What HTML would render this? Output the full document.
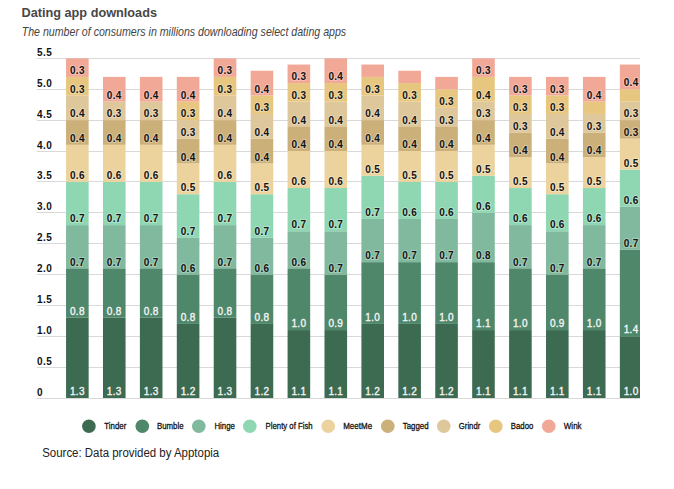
<!DOCTYPE html>
<html><head><meta charset="utf-8"><style>
html,body{margin:0;padding:0;background:#fff;}
body{width:674px;height:489px;position:relative;overflow:hidden;font-family:"Liberation Sans",sans-serif;}
svg{position:absolute;left:0;top:0;}
text{font-family:"Liberation Sans",sans-serif;}
.yl{font-size:10px;font-weight:bold;fill:#111;letter-spacing:0.4px;}
.l{font-size:10px;font-weight:bold;fill:#141414;text-anchor:middle;letter-spacing:0.3px;stroke:rgba(255,255,255,0.3);stroke-width:2px;paint-order:stroke;}
.w{fill:#f4f4f4;font-weight:normal;stroke:#f4f4f4;stroke-width:0.35px;}
.lt{font-size:9.3px;font-weight:normal;fill:#111;stroke:#111;stroke-width:0.3px;}
</style></head><body>
<svg width="674" height="489" viewBox="0 0 674 489">
<text x="21.5" y="17.0" textLength="135.5" lengthAdjust="spacingAndGlyphs" style="font-size:13.7px;font-weight:bold;fill:#474747">Dating app downloads</text>
<text x="21.7" y="35.5" textLength="324.5" lengthAdjust="spacingAndGlyphs" style="font-size:12.2px;font-style:italic;fill:#444">The number of consumers in millions downloading select dating apps</text>
<rect x="36.7" y="398" width="603.3" height="1" fill="#d9d9d9"/>
<text class="yl" x="37" y="396.40">0</text>
<rect x="36.7" y="367" width="603.3" height="1" fill="#d9d9d9"/>
<text class="yl" x="37" y="365.40">0.5</text>
<rect x="36.7" y="336" width="603.3" height="1" fill="#d9d9d9"/>
<text class="yl" x="37" y="334.40">1.0</text>
<rect x="36.7" y="305" width="603.3" height="1" fill="#d9d9d9"/>
<text class="yl" x="37" y="303.40">1.5</text>
<rect x="36.7" y="274" width="603.3" height="1" fill="#d9d9d9"/>
<text class="yl" x="37" y="272.40">2.0</text>
<rect x="36.7" y="243" width="603.3" height="1" fill="#d9d9d9"/>
<text class="yl" x="37" y="241.40">2.5</text>
<rect x="36.7" y="212" width="603.3" height="1" fill="#d9d9d9"/>
<text class="yl" x="37" y="210.40">3.0</text>
<rect x="36.7" y="181" width="603.3" height="1" fill="#d9d9d9"/>
<text class="yl" x="37" y="179.40">3.5</text>
<rect x="36.7" y="151" width="603.3" height="1" fill="#d9d9d9"/>
<text class="yl" x="37" y="149.40">4.0</text>
<rect x="36.7" y="120" width="603.3" height="1" fill="#d9d9d9"/>
<text class="yl" x="37" y="118.40">4.5</text>
<rect x="36.7" y="89" width="603.3" height="1" fill="#d9d9d9"/>
<text class="yl" x="37" y="87.40">5.0</text>
<rect x="36.7" y="58" width="603.3" height="1" fill="#d9d9d9"/>
<text class="yl" x="37" y="56.40">5.5</text>
<defs><clipPath id="c"><rect x="0" y="0" width="640" height="489"/></clipPath></defs><g clip-path="url(#c)">
<rect x="66.05" y="317.73" width="22.6" height="80.27" fill="#3d6b52"/>
<rect x="66.05" y="268.32" width="22.6" height="49.40" fill="#4e876a"/>
<rect x="66.05" y="225.10" width="22.6" height="43.22" fill="#80b99d"/>
<rect x="66.05" y="181.88" width="22.6" height="43.23" fill="#8fd7b3"/>
<rect x="66.05" y="144.83" width="22.6" height="37.05" fill="#ecd39d"/>
<rect x="66.05" y="120.12" width="22.6" height="24.70" fill="#ccb07a"/>
<rect x="66.05" y="95.42" width="22.6" height="24.70" fill="#dec79a"/>
<rect x="66.05" y="76.90" width="22.6" height="18.52" fill="#e7c77f"/>
<rect x="66.05" y="58.38" width="22.6" height="18.52" fill="#f2a896"/>
<text class="l w" x="77.35" y="395.20">1.3</text>
<text class="l w" x="77.35" y="314.93">0.8</text>
<text class="l" x="77.35" y="265.52">0.7</text>
<text class="l" x="77.35" y="222.30">0.7</text>
<text class="l" x="77.35" y="179.07">0.6</text>
<text class="l" x="77.35" y="142.03">0.4</text>
<text class="l" x="77.35" y="117.33">0.4</text>
<text class="l" x="77.35" y="92.62">0.3</text>
<text class="l" x="77.35" y="74.10">0.3</text>
<rect x="102.97" y="317.73" width="22.6" height="80.27" fill="#3d6b52"/>
<rect x="102.97" y="268.32" width="22.6" height="49.40" fill="#4e876a"/>
<rect x="102.97" y="225.10" width="22.6" height="43.22" fill="#80b99d"/>
<rect x="102.97" y="181.88" width="22.6" height="43.23" fill="#8fd7b3"/>
<rect x="102.97" y="144.83" width="22.6" height="37.05" fill="#ecd39d"/>
<rect x="102.97" y="120.12" width="22.6" height="24.70" fill="#ccb07a"/>
<rect x="102.97" y="101.60" width="22.6" height="18.52" fill="#dec79a"/>
<rect x="102.97" y="76.90" width="22.6" height="24.70" fill="#f2a896"/>
<text class="l w" x="114.27" y="395.20">1.3</text>
<text class="l w" x="114.27" y="314.93">0.8</text>
<text class="l" x="114.27" y="265.52">0.7</text>
<text class="l" x="114.27" y="222.30">0.7</text>
<text class="l" x="114.27" y="179.07">0.6</text>
<text class="l" x="114.27" y="142.03">0.4</text>
<text class="l" x="114.27" y="117.33">0.3</text>
<text class="l" x="114.27" y="98.80">0.4</text>
<rect x="139.89" y="317.73" width="22.6" height="80.27" fill="#3d6b52"/>
<rect x="139.89" y="268.32" width="22.6" height="49.40" fill="#4e876a"/>
<rect x="139.89" y="225.10" width="22.6" height="43.22" fill="#80b99d"/>
<rect x="139.89" y="181.88" width="22.6" height="43.23" fill="#8fd7b3"/>
<rect x="139.89" y="144.83" width="22.6" height="37.05" fill="#ecd39d"/>
<rect x="139.89" y="120.12" width="22.6" height="24.70" fill="#ccb07a"/>
<rect x="139.89" y="101.60" width="22.6" height="18.52" fill="#dec79a"/>
<rect x="139.89" y="76.90" width="22.6" height="24.70" fill="#f2a896"/>
<text class="l w" x="151.19" y="395.20">1.3</text>
<text class="l w" x="151.19" y="314.93">0.8</text>
<text class="l" x="151.19" y="265.52">0.7</text>
<text class="l" x="151.19" y="222.30">0.7</text>
<text class="l" x="151.19" y="179.07">0.6</text>
<text class="l" x="151.19" y="142.03">0.4</text>
<text class="l" x="151.19" y="117.33">0.3</text>
<text class="l" x="151.19" y="98.80">0.4</text>
<rect x="176.81" y="323.90" width="22.6" height="74.10" fill="#3d6b52"/>
<rect x="176.81" y="274.50" width="22.6" height="49.40" fill="#4e876a"/>
<rect x="176.81" y="237.45" width="22.6" height="37.05" fill="#80b99d"/>
<rect x="176.81" y="194.23" width="22.6" height="43.22" fill="#8fd7b3"/>
<rect x="176.81" y="163.35" width="22.6" height="30.88" fill="#ecd39d"/>
<rect x="176.81" y="138.65" width="22.6" height="24.70" fill="#ccb07a"/>
<rect x="176.81" y="120.12" width="22.6" height="18.52" fill="#dec79a"/>
<rect x="176.81" y="101.60" width="22.6" height="18.52" fill="#e7c77f"/>
<rect x="176.81" y="76.90" width="22.6" height="24.70" fill="#f2a896"/>
<text class="l w" x="188.11" y="395.20">1.2</text>
<text class="l w" x="188.11" y="321.10">0.8</text>
<text class="l" x="188.11" y="271.70">0.6</text>
<text class="l" x="188.11" y="234.65">0.7</text>
<text class="l" x="188.11" y="191.43">0.5</text>
<text class="l" x="188.11" y="160.55">0.4</text>
<text class="l" x="188.11" y="135.85">0.3</text>
<text class="l" x="188.11" y="117.33">0.3</text>
<text class="l" x="188.11" y="98.80">0.4</text>
<rect x="213.73" y="317.73" width="22.6" height="80.27" fill="#3d6b52"/>
<rect x="213.73" y="268.32" width="22.6" height="49.40" fill="#4e876a"/>
<rect x="213.73" y="225.10" width="22.6" height="43.22" fill="#80b99d"/>
<rect x="213.73" y="181.88" width="22.6" height="43.23" fill="#8fd7b3"/>
<rect x="213.73" y="144.83" width="22.6" height="37.05" fill="#ecd39d"/>
<rect x="213.73" y="120.12" width="22.6" height="24.70" fill="#ccb07a"/>
<rect x="213.73" y="95.42" width="22.6" height="24.70" fill="#dec79a"/>
<rect x="213.73" y="76.90" width="22.6" height="18.52" fill="#e7c77f"/>
<rect x="213.73" y="58.38" width="22.6" height="18.52" fill="#f2a896"/>
<text class="l w" x="225.03" y="395.20">1.3</text>
<text class="l w" x="225.03" y="314.93">0.8</text>
<text class="l" x="225.03" y="265.52">0.7</text>
<text class="l" x="225.03" y="222.30">0.7</text>
<text class="l" x="225.03" y="179.07">0.6</text>
<text class="l" x="225.03" y="142.03">0.4</text>
<text class="l" x="225.03" y="117.33">0.4</text>
<text class="l" x="225.03" y="92.62">0.3</text>
<text class="l" x="225.03" y="74.10">0.3</text>
<rect x="250.65" y="323.90" width="22.6" height="74.10" fill="#3d6b52"/>
<rect x="250.65" y="274.50" width="22.6" height="49.40" fill="#4e876a"/>
<rect x="250.65" y="237.45" width="22.6" height="37.05" fill="#80b99d"/>
<rect x="250.65" y="194.23" width="22.6" height="43.22" fill="#8fd7b3"/>
<rect x="250.65" y="163.35" width="22.6" height="30.88" fill="#ecd39d"/>
<rect x="250.65" y="138.65" width="22.6" height="24.70" fill="#ccb07a"/>
<rect x="250.65" y="113.95" width="22.6" height="24.70" fill="#dec79a"/>
<rect x="250.65" y="95.42" width="22.6" height="18.53" fill="#e7c77f"/>
<rect x="250.65" y="70.72" width="22.6" height="24.70" fill="#f2a896"/>
<text class="l w" x="261.95" y="395.20">1.2</text>
<text class="l w" x="261.95" y="321.10">0.8</text>
<text class="l" x="261.95" y="271.70">0.6</text>
<text class="l" x="261.95" y="234.65">0.7</text>
<text class="l" x="261.95" y="191.43">0.5</text>
<text class="l" x="261.95" y="160.55">0.4</text>
<text class="l" x="261.95" y="135.85">0.4</text>
<text class="l" x="261.95" y="111.15">0.3</text>
<text class="l" x="261.95" y="92.62">0.4</text>
<rect x="287.57" y="330.07" width="22.6" height="67.93" fill="#3d6b52"/>
<rect x="287.57" y="268.32" width="22.6" height="61.75" fill="#4e876a"/>
<rect x="287.57" y="231.27" width="22.6" height="37.05" fill="#80b99d"/>
<rect x="287.57" y="188.05" width="22.6" height="43.22" fill="#8fd7b3"/>
<rect x="287.57" y="151.00" width="22.6" height="37.05" fill="#ecd39d"/>
<rect x="287.57" y="126.30" width="22.6" height="24.70" fill="#ccb07a"/>
<rect x="287.57" y="101.60" width="22.6" height="24.70" fill="#dec79a"/>
<rect x="287.57" y="83.07" width="22.6" height="18.52" fill="#e7c77f"/>
<rect x="287.57" y="64.55" width="22.6" height="18.53" fill="#f2a896"/>
<text class="l w" x="298.87" y="395.20">1.1</text>
<text class="l w" x="298.87" y="327.27">1.0</text>
<text class="l" x="298.87" y="265.52">0.6</text>
<text class="l" x="298.87" y="228.47">0.7</text>
<text class="l" x="298.87" y="185.25">0.6</text>
<text class="l" x="298.87" y="148.20">0.4</text>
<text class="l" x="298.87" y="123.50">0.4</text>
<text class="l" x="298.87" y="98.80">0.3</text>
<text class="l" x="298.87" y="80.27">0.3</text>
<rect x="324.49" y="330.07" width="22.6" height="67.93" fill="#3d6b52"/>
<rect x="324.49" y="274.50" width="22.6" height="55.57" fill="#4e876a"/>
<rect x="324.49" y="231.27" width="22.6" height="43.23" fill="#80b99d"/>
<rect x="324.49" y="188.05" width="22.6" height="43.22" fill="#8fd7b3"/>
<rect x="324.49" y="151.00" width="22.6" height="37.05" fill="#ecd39d"/>
<rect x="324.49" y="126.30" width="22.6" height="24.70" fill="#ccb07a"/>
<rect x="324.49" y="101.60" width="22.6" height="24.70" fill="#dec79a"/>
<rect x="324.49" y="83.07" width="22.6" height="18.52" fill="#e7c77f"/>
<rect x="324.49" y="58.37" width="22.6" height="24.70" fill="#f2a896"/>
<text class="l w" x="335.79" y="395.20">1.1</text>
<text class="l w" x="335.79" y="327.27">0.9</text>
<text class="l" x="335.79" y="271.70">0.7</text>
<text class="l" x="335.79" y="228.47">0.7</text>
<text class="l" x="335.79" y="185.25">0.6</text>
<text class="l" x="335.79" y="148.20">0.4</text>
<text class="l" x="335.79" y="123.50">0.4</text>
<text class="l" x="335.79" y="98.80">0.3</text>
<text class="l" x="335.79" y="80.27">0.4</text>
<rect x="361.41" y="323.90" width="22.6" height="74.10" fill="#3d6b52"/>
<rect x="361.41" y="262.15" width="22.6" height="61.75" fill="#4e876a"/>
<rect x="361.41" y="218.92" width="22.6" height="43.22" fill="#80b99d"/>
<rect x="361.41" y="175.70" width="22.6" height="43.23" fill="#8fd7b3"/>
<rect x="361.41" y="144.82" width="22.6" height="30.88" fill="#ecd39d"/>
<rect x="361.41" y="120.12" width="22.6" height="24.70" fill="#ccb07a"/>
<rect x="361.41" y="95.42" width="22.6" height="24.70" fill="#dec79a"/>
<rect x="361.41" y="76.90" width="22.6" height="18.52" fill="#e7c77f"/>
<rect x="361.41" y="64.55" width="22.6" height="12.35" fill="#f2a896"/>
<text class="l w" x="372.71" y="395.20">1.2</text>
<text class="l w" x="372.71" y="321.10">1.0</text>
<text class="l" x="372.71" y="259.35">0.7</text>
<text class="l" x="372.71" y="216.12">0.7</text>
<text class="l" x="372.71" y="172.90">0.5</text>
<text class="l" x="372.71" y="142.02">0.4</text>
<text class="l" x="372.71" y="117.32">0.4</text>
<text class="l" x="372.71" y="92.62">0.3</text>
<rect x="398.33" y="323.90" width="22.6" height="74.10" fill="#3d6b52"/>
<rect x="398.33" y="262.15" width="22.6" height="61.75" fill="#4e876a"/>
<rect x="398.33" y="218.92" width="22.6" height="43.22" fill="#80b99d"/>
<rect x="398.33" y="181.87" width="22.6" height="37.05" fill="#8fd7b3"/>
<rect x="398.33" y="151.00" width="22.6" height="30.87" fill="#ecd39d"/>
<rect x="398.33" y="126.30" width="22.6" height="24.70" fill="#ccb07a"/>
<rect x="398.33" y="101.60" width="22.6" height="24.70" fill="#dec79a"/>
<rect x="398.33" y="83.07" width="22.6" height="18.52" fill="#e7c77f"/>
<rect x="398.33" y="70.72" width="22.6" height="12.35" fill="#f2a896"/>
<text class="l w" x="409.63" y="395.20">1.2</text>
<text class="l w" x="409.63" y="321.10">1.0</text>
<text class="l" x="409.63" y="259.35">0.7</text>
<text class="l" x="409.63" y="216.12">0.6</text>
<text class="l" x="409.63" y="179.07">0.5</text>
<text class="l" x="409.63" y="148.20">0.4</text>
<text class="l" x="409.63" y="123.50">0.4</text>
<text class="l" x="409.63" y="98.80">0.3</text>
<rect x="435.25" y="323.90" width="22.6" height="74.10" fill="#3d6b52"/>
<rect x="435.25" y="262.15" width="22.6" height="61.75" fill="#4e876a"/>
<rect x="435.25" y="218.92" width="22.6" height="43.22" fill="#80b99d"/>
<rect x="435.25" y="181.87" width="22.6" height="37.05" fill="#8fd7b3"/>
<rect x="435.25" y="151.00" width="22.6" height="30.87" fill="#ecd39d"/>
<rect x="435.25" y="126.30" width="22.6" height="24.70" fill="#ccb07a"/>
<rect x="435.25" y="107.77" width="22.6" height="18.52" fill="#dec79a"/>
<rect x="435.25" y="89.25" width="22.6" height="18.52" fill="#e7c77f"/>
<rect x="435.25" y="76.90" width="22.6" height="12.35" fill="#f2a896"/>
<text class="l w" x="446.55" y="395.20">1.2</text>
<text class="l w" x="446.55" y="321.10">1.0</text>
<text class="l" x="446.55" y="259.35">0.7</text>
<text class="l" x="446.55" y="216.12">0.6</text>
<text class="l" x="446.55" y="179.07">0.5</text>
<text class="l" x="446.55" y="148.20">0.4</text>
<text class="l" x="446.55" y="123.50">0.3</text>
<text class="l" x="446.55" y="104.97">0.3</text>
<rect x="472.17" y="330.07" width="22.6" height="67.93" fill="#3d6b52"/>
<rect x="472.17" y="262.15" width="22.6" height="67.93" fill="#4e876a"/>
<rect x="472.17" y="212.75" width="22.6" height="49.40" fill="#80b99d"/>
<rect x="472.17" y="175.70" width="22.6" height="37.05" fill="#8fd7b3"/>
<rect x="472.17" y="144.83" width="22.6" height="30.87" fill="#ecd39d"/>
<rect x="472.17" y="120.12" width="22.6" height="24.70" fill="#ccb07a"/>
<rect x="472.17" y="101.60" width="22.6" height="18.52" fill="#dec79a"/>
<rect x="472.17" y="76.90" width="22.6" height="24.70" fill="#e7c77f"/>
<rect x="472.17" y="58.38" width="22.6" height="18.52" fill="#f2a896"/>
<text class="l w" x="483.47" y="395.20">1.1</text>
<text class="l w" x="483.47" y="327.27">1.1</text>
<text class="l" x="483.47" y="259.35">0.8</text>
<text class="l" x="483.47" y="209.95">0.6</text>
<text class="l" x="483.47" y="172.90">0.5</text>
<text class="l" x="483.47" y="142.03">0.4</text>
<text class="l" x="483.47" y="117.33">0.3</text>
<text class="l" x="483.47" y="98.80">0.4</text>
<text class="l" x="483.47" y="74.10">0.3</text>
<rect x="509.09" y="330.07" width="22.6" height="67.93" fill="#3d6b52"/>
<rect x="509.09" y="268.32" width="22.6" height="61.75" fill="#4e876a"/>
<rect x="509.09" y="225.10" width="22.6" height="43.22" fill="#80b99d"/>
<rect x="509.09" y="188.05" width="22.6" height="37.05" fill="#8fd7b3"/>
<rect x="509.09" y="157.18" width="22.6" height="30.88" fill="#ecd39d"/>
<rect x="509.09" y="132.48" width="22.6" height="24.70" fill="#ccb07a"/>
<rect x="509.09" y="113.95" width="22.6" height="18.52" fill="#dec79a"/>
<rect x="509.09" y="95.43" width="22.6" height="18.53" fill="#e7c77f"/>
<rect x="509.09" y="76.90" width="22.6" height="18.52" fill="#f2a896"/>
<text class="l w" x="520.39" y="395.20">1.1</text>
<text class="l w" x="520.39" y="327.27">1.0</text>
<text class="l" x="520.39" y="265.52">0.7</text>
<text class="l" x="520.39" y="222.30">0.6</text>
<text class="l" x="520.39" y="185.25">0.5</text>
<text class="l" x="520.39" y="154.38">0.4</text>
<text class="l" x="520.39" y="129.68">0.3</text>
<text class="l" x="520.39" y="111.15">0.3</text>
<text class="l" x="520.39" y="92.63">0.3</text>
<rect x="546.01" y="330.07" width="22.6" height="67.93" fill="#3d6b52"/>
<rect x="546.01" y="274.50" width="22.6" height="55.57" fill="#4e876a"/>
<rect x="546.01" y="231.27" width="22.6" height="43.23" fill="#80b99d"/>
<rect x="546.01" y="194.22" width="22.6" height="37.05" fill="#8fd7b3"/>
<rect x="546.01" y="163.35" width="22.6" height="30.88" fill="#ecd39d"/>
<rect x="546.01" y="138.65" width="22.6" height="24.70" fill="#ccb07a"/>
<rect x="546.01" y="113.95" width="22.6" height="24.70" fill="#dec79a"/>
<rect x="546.01" y="95.42" width="22.6" height="18.53" fill="#e7c77f"/>
<rect x="546.01" y="76.90" width="22.6" height="18.52" fill="#f2a896"/>
<text class="l w" x="557.31" y="395.20">1.1</text>
<text class="l w" x="557.31" y="327.27">0.9</text>
<text class="l" x="557.31" y="271.70">0.7</text>
<text class="l" x="557.31" y="228.47">0.6</text>
<text class="l" x="557.31" y="191.42">0.5</text>
<text class="l" x="557.31" y="160.55">0.4</text>
<text class="l" x="557.31" y="135.85">0.4</text>
<text class="l" x="557.31" y="111.15">0.3</text>
<text class="l" x="557.31" y="92.62">0.3</text>
<rect x="582.93" y="330.07" width="22.6" height="67.93" fill="#3d6b52"/>
<rect x="582.93" y="268.32" width="22.6" height="61.75" fill="#4e876a"/>
<rect x="582.93" y="225.10" width="22.6" height="43.22" fill="#80b99d"/>
<rect x="582.93" y="188.05" width="22.6" height="37.05" fill="#8fd7b3"/>
<rect x="582.93" y="157.18" width="22.6" height="30.88" fill="#ecd39d"/>
<rect x="582.93" y="132.48" width="22.6" height="24.70" fill="#ccb07a"/>
<rect x="582.93" y="113.95" width="22.6" height="18.52" fill="#dec79a"/>
<rect x="582.93" y="101.60" width="22.6" height="12.35" fill="#e7c77f"/>
<rect x="582.93" y="76.90" width="22.6" height="24.70" fill="#f2a896"/>
<text class="l w" x="594.23" y="395.20">1.1</text>
<text class="l w" x="594.23" y="327.27">1.0</text>
<text class="l" x="594.23" y="265.52">0.7</text>
<text class="l" x="594.23" y="222.30">0.6</text>
<text class="l" x="594.23" y="185.25">0.5</text>
<text class="l" x="594.23" y="154.38">0.4</text>
<text class="l" x="594.23" y="129.68">0.3</text>
<text class="l" x="594.23" y="98.80">0.4</text>
<rect x="619.85" y="336.25" width="22.6" height="61.75" fill="#3d6b52"/>
<rect x="619.85" y="249.80" width="22.6" height="86.45" fill="#4e876a"/>
<rect x="619.85" y="206.58" width="22.6" height="43.22" fill="#80b99d"/>
<rect x="619.85" y="169.53" width="22.6" height="37.05" fill="#8fd7b3"/>
<rect x="619.85" y="138.65" width="22.6" height="30.87" fill="#ecd39d"/>
<rect x="619.85" y="120.13" width="22.6" height="18.52" fill="#ccb07a"/>
<rect x="619.85" y="101.60" width="22.6" height="18.52" fill="#dec79a"/>
<rect x="619.85" y="89.25" width="22.6" height="12.35" fill="#e7c77f"/>
<rect x="619.85" y="64.55" width="22.6" height="24.70" fill="#f2a896"/>
<text class="l w" x="631.15" y="395.20">1.0</text>
<text class="l w" x="631.15" y="333.45">1.4</text>
<text class="l" x="631.15" y="247.00">0.7</text>
<text class="l" x="631.15" y="203.78">0.6</text>
<text class="l" x="631.15" y="166.72">0.5</text>
<text class="l" x="631.15" y="135.85">0.3</text>
<text class="l" x="631.15" y="117.33">0.3</text>
<text class="l" x="631.15" y="86.45">0.4</text>
</g>
<circle cx="88.9" cy="426.2" r="6.8" fill="#3d6b52"/>
<text class="lt" x="104.3" y="428.7" textLength="22.0" lengthAdjust="spacingAndGlyphs">Tinder</text>
<circle cx="142.3" cy="426.2" r="6.8" fill="#4e876a"/>
<text class="lt" x="157.0" y="428.7" textLength="26.5" lengthAdjust="spacingAndGlyphs">Bumble</text>
<circle cx="198.8" cy="426.2" r="6.8" fill="#80b99d"/>
<text class="lt" x="214.4" y="428.7" textLength="20.5" lengthAdjust="spacingAndGlyphs">Hinge</text>
<circle cx="249.8" cy="426.2" r="6.8" fill="#8fd7b3"/>
<text class="lt" x="265.6" y="428.7" textLength="47.1" lengthAdjust="spacingAndGlyphs">Plenty of Fish</text>
<circle cx="328.2" cy="426.2" r="6.8" fill="#ecd39d"/>
<text class="lt" x="343.2" y="428.7" textLength="28.9" lengthAdjust="spacingAndGlyphs">MeetMe</text>
<circle cx="387.8" cy="426.2" r="6.8" fill="#ccb07a"/>
<text class="lt" x="402.7" y="428.7" textLength="25.9" lengthAdjust="spacingAndGlyphs">Tagged</text>
<circle cx="443.8" cy="426.2" r="6.8" fill="#dec79a"/>
<text class="lt" x="458.8" y="428.7" textLength="21.5" lengthAdjust="spacingAndGlyphs">Grindr</text>
<circle cx="495.8" cy="426.2" r="6.8" fill="#e7c77f"/>
<text class="lt" x="510.8" y="428.7" textLength="22.5" lengthAdjust="spacingAndGlyphs">Badoo</text>
<circle cx="548.8" cy="426.2" r="6.8" fill="#f2a896"/>
<text class="lt" x="563.8" y="428.7" textLength="17.8" lengthAdjust="spacingAndGlyphs">Wink</text>
<text x="42.2" y="456.8" textLength="177" lengthAdjust="spacingAndGlyphs" style="font-size:12px;fill:#222">Source: Data provided by Apptopia</text>
</svg></body></html>
